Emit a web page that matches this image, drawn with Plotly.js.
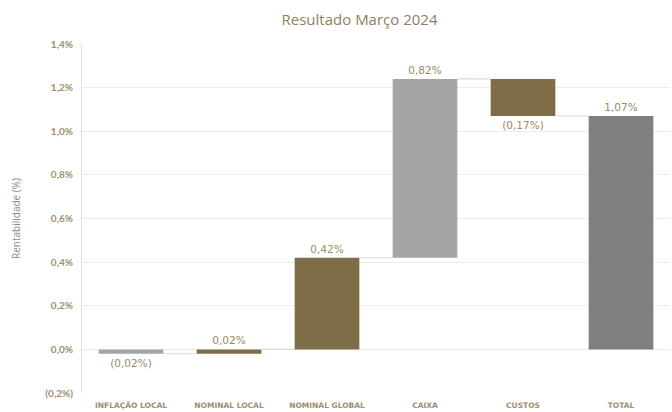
<!DOCTYPE html>
<html><head><meta charset="utf-8">
<script src="https://cdn.plot.ly/plotly-3.0.1.min.js"></script>
<style>html,body{margin:0;padding:0;background:#fff}#c{width:672px;height:412px}</style>
</head><body><div id="c"></div>
<script>
const categories = ["INFLAÇÃO LOCAL","NOMINAL LOCAL","NOMINAL GLOBAL","CAIXA","CUSTOS","TOTAL"];
const values = [-0.02, 0.02, 0.42, 0.82, -0.17, 1.07];
const isTotal = [false, false, false, false, false, true];
const barColors = ["#a5a5a5","#7f6d48","#7f6d48","#a5a5a5","#7f6d48","#7f7f7f"];
const yTickVals = [-0.2, 0, 0.2, 0.4, 0.6, 0.8, 1.0, 1.2, 1.4];
const yTickLabels = ["(0,2%)","0,0%","0,2%","0,4%","0,6%","0,8%","1,0%","1,2%","1,4%"];

function fmt(v){
  const s = Math.abs(v).toFixed(2).replace('.', ',') + '%';
  return v < 0 ? '(' + s + ')' : s;
}
const xs = categories.map((_, i) => i);
const bases = [], ends = [];
let run = 0;
values.forEach((v, i) => {
  if (isTotal[i]) { bases.push(0); ends.push(v); run = v; }
  else { bases.push(run); run += v; ends.push(run); }
});
const halfW = 0.33;
const connX = [], connY = [];
for (let i = 0; i < values.length - 1; i++) {
  connX.push(i + halfW, i + 1 - halfW, null);
  connY.push(ends[i], ends[i], null);
}
const traces = [
  {type:'scatter', mode:'lines', x:connX, y:connY, line:{color:'#d9d9d9', width:1.2}, hoverinfo:'skip', showlegend:false, cliponaxis:false},
  {type:'bar', x:xs, y:values, base:bases, width:halfW*2,
   marker:{color:barColors, line:{width:0}},
   text: values.map(fmt), textposition:'outside', cliponaxis:false,
   textfont:{family:'"DejaVu Sans", sans-serif', size:10.5, color:'#9a8a66'},
   showlegend:false}
];
const layout = {
  width:672, height:412,
  margin:{l:82, r:2, t:44, b:19},
  paper_bgcolor:'#fff', plot_bgcolor:'#fff',
  title:{text:'Resultado Março 2024', x:0.535, xanchor:'center', y:0.952, yanchor:'middle',
         font:{family:'"Open Sans", "Noto Sans", sans-serif', size:15, color:'#8f8060'}},
  xaxis:{range:[-0.5, 5.5], tickvals:xs, ticktext:categories, showgrid:false, zeroline:false,
         showline:false, ticks:'', ticklabelstandoff:6,
         tickfont:{family:'"DejaVu Sans", sans-serif', size:7.5, color:'#9d8e6c', weight:'bold'}},
  yaxis:{range:[-0.2, 1.4], tickvals:yTickVals, ticktext:yTickLabels, showgrid:true, gridcolor:'#ececec', gridwidth:1,
         zeroline:false, showline:true, linecolor:'#e0e0e0', ticks:'', ticklabelstandoff:6,
         tickfont:{family:'Lato, sans-serif', size:10, color:'#9d8e6c', weight:'bold'},
         title:{text:'Rentabilidade (%)', standoff:22, font:{family:'"Open Sans", sans-serif', size:10, color:'#8a8a8a'}}},
  bargap:0.34
};
Plotly.newPlot('c', traces, layout, {displayModeBar:false, staticPlot:true});
</script></body></html>
